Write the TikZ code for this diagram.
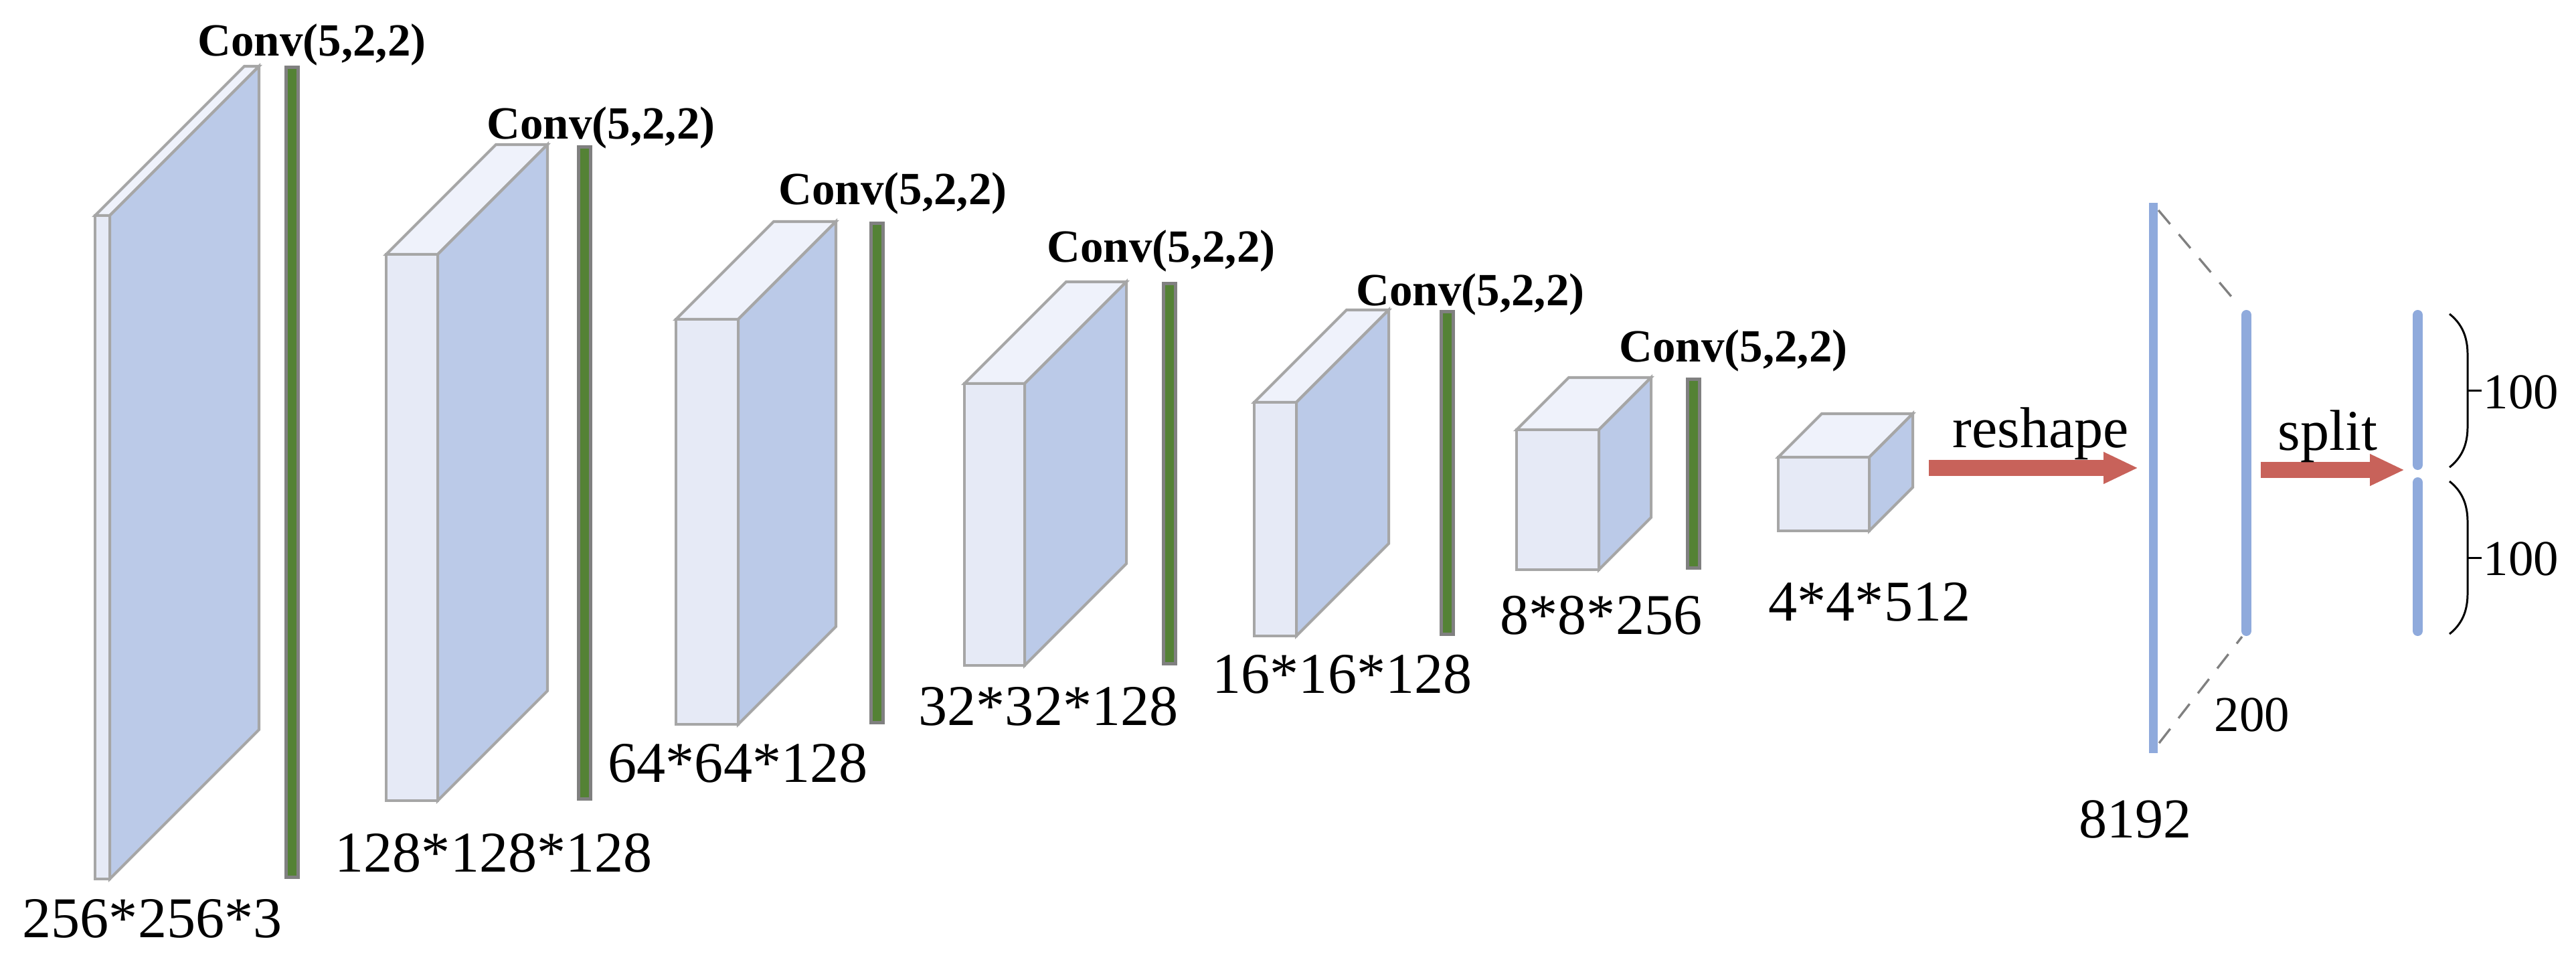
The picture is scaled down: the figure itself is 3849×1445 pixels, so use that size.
\documentclass[tikz,border=0pt]{standalone}
\usepackage{fontspec}
\setmainfont{Liberation Serif}
\usetikzlibrary{arrows.meta}
\definecolor{frontc}{RGB}{230,234,246}
\definecolor{topc}{RGB}{239,242,251}
\definecolor{sidec}{RGB}{187,202,232}
\definecolor{edgec}{RGB}{166,166,166}
\definecolor{bargreen}{RGB}{84,130,53}
\definecolor{bargray}{RGB}{128,128,128}
\definecolor{vecc}{RGB}{143,170,220}
\definecolor{arrc}{RGB}{200,98,90}
\definecolor{dashc}{RGB}{128,128,128}
\tikzset{
  face/.style={draw=edgec, line width=1.15pt, line join=miter},
  convbar/.style={draw=bargray, fill=bargreen, line width=1.42pt},
  convlab/.style={anchor=base west, inner sep=0pt, font=\bfseries\fontsize{19.6}{22}\selectfont},
  dimlab/.style={anchor=base west, inner sep=0pt, font=\fontsize{24.5}{28}\selectfont},
  smalllab/.style={anchor=base west, inner sep=0pt, font=\fontsize{21.3}{24}\selectfont},
  veclineA/.style={draw=vecc, line width=3.7pt, line cap=butt},
  veclineB/.style={draw=vecc, line width=4.27pt, line cap=round},
  dashline/.style={draw=dashc, line width=0.95pt, dash pattern=on 7.7pt off 5.7pt},
  bigarrow/.style={draw=arrc, line width=6.83pt, -{Triangle[length=14.8pt,width=12.5pt]}},
  bracket/.style={draw=black, line width=0.85pt}
}
% cuboid: name, x0, x1, y0 (top), y1 (bottom), depth
\newcommand{\mycube}[6]{%
  \filldraw[face, fill=topc] (#2,#4) -- ({#2+#6},{#4-#6}) -- ({#3+#6},{#4-#6}) -- (#3,#4) -- cycle;
  \filldraw[face, fill=sidec] (#3,#4) -- ({#3+#6},{#4-#6}) -- ({#3+#6},{#5-#6}) -- (#3,#5) -- cycle;
  \filldraw[face, fill=frontc] (#2,#4) rectangle (#3,#5);
  \coordinate (#1) at ({(#2+#3)/2},{(#4+#5)/2});
}
% conv bar: name, x0, x1, ytop, ybottom
\newcommand{\mybar}[5]{%
  \filldraw[convbar] ({#2+2.5},{#4+2.5}) rectangle ({#3-2.5},{#5-2.5});
  \coordinate (#1) at ({(#2+#3)/2},{(#4+#5)/2});
}
% bracket: name, x, ytop, ybottom
\newcommand{\mybracket}[4]{%
  \draw[bracket] (#2,#3) .. controls ({#2+20},{#3+16}) and ({#2+27},{#3+36}) .. ({#2+27},{#3+61})
     -- ({#2+27},{#4-61}) .. controls ({#2+27},{#4-36}) and ({#2+20},{#4-16}) .. (#2,#4);
  \coordinate (#1) at ({#2+27},{(#3+#4)/2});
  \draw[bracket] (#1) -- ++(21,0);
}
\begin{document}
\begin{tikzpicture}[x=0.01cm, y=-0.01cm]
\useasboundingbox (0,0) rectangle (3849,1445);

% blocks
\mycube{b1}{142}{164}{322}{1313}{223}
\mycube{b2}{577}{654}{380}{1196}{164}
\mycube{b3}{1010}{1103}{477}{1082}{146}
\mycube{b4}{1441}{1531}{573}{994}{152}
\mycube{b5}{1874}{1937}{601}{950}{138}
\mycube{b6}{2266}{2389}{642}{851}{78}
\mycube{b7}{2657}{2793}{683}{793}{65}

% conv bars
\mybar{k1}{425}{448}{98}{1313}
\mybar{k2}{862}{885}{217}{1196}
\mybar{k3}{1299}{1322}{331}{1082}
\mybar{k4}{1736}{1759}{421}{994}
\mybar{k5}{2151}{2174}{463}{950}
\mybar{k6}{2519}{2542}{564}{851}

% conv labels
\node[convlab] (c1) at (295,83) {Conv(5,2,2)};
\node[convlab] (c2) at (727,207) {Conv(5,2,2)};
\node[convlab] (c3) at (1163,305) {Conv(5,2,2)};
\node[convlab] (c4) at (1564,391) {Conv(5,2,2)};
\node[convlab] (c5) at (2026,456) {Conv(5,2,2)};
\node[convlab] (c6) at (2419,540) {Conv(5,2,2)};

% dimension labels
\node[dimlab] (d1) at (33,1400) {256*256*3};
\node[dimlab] (d2) at (500,1302) {128*128*128};
\node[dimlab] (d3) at (908,1168) {64*64*128};
\node[dimlab] (d4) at (1372,1083) {32*32*128};
\node[dimlab] (d5) at (1811,1035) {16*16*128};
\node[dimlab] (d6) at (2241,947) {8*8*256};
\node[dimlab] (d7) at (2642,927) {4*4*512};

% vectors
\coordinate (v1t) at (3217.5,303);
\coordinate (v1b) at (3217.5,1125);
\draw[veclineA] (v1t) -- (v1b);
\coordinate (v2t) at (3356.5,470.5);
\coordinate (v2b) at (3356.5,942.5);
\draw[veclineB] (v2t) -- (v2b);
\coordinate (v3t) at (3612.5,470.5);
\coordinate (v3m) at (3612.5,694.5);
\draw[veclineB] (v3t) -- (v3m);
\coordinate (v4t) at (3612.5,720.5);
\coordinate (v4b) at (3612.5,942.5);
\draw[veclineB] (v4t) -- (v4b);

% dashed projection lines
\coordinate (p1) at (3225,314);
\coordinate (p2) at (3345,456);
\coordinate (p3) at (3226,1110);
\coordinate (p4) at (3350,951);
\draw[dashline] (p1) -- (p2);
\draw[dashline] (p3) -- (p4);

% arrows
\coordinate (rsA) at (2882,699);
\coordinate (rsB) at (3195,699);
\draw[bigarrow] (rsA) -- (rsB);
\coordinate (spA) at (3378,702);
\coordinate (spB) at (3593,702);
\draw[bigarrow] (spA) -- (spB);
\node[dimlab] (reshape) at (2917,668) {reshape};
\node[dimlab] (split) at (3403,672) {split};

% vector labels
\node[dimlab, font=\fontsize{23.9}{27}\selectfont] (n8192) at (3106,1251) {8192};
\node[smalllab] (n200) at (3308,1092) {200};

% brackets
\mybracket{br1}{3660}{469}{698}
\mybracket{br2}{3660}{719}{947}
\node[smalllab] (h1) at (3710,610) {100};
\node[smalllab] (h2) at (3710,859) {100};
\end{tikzpicture}
\end{document}
